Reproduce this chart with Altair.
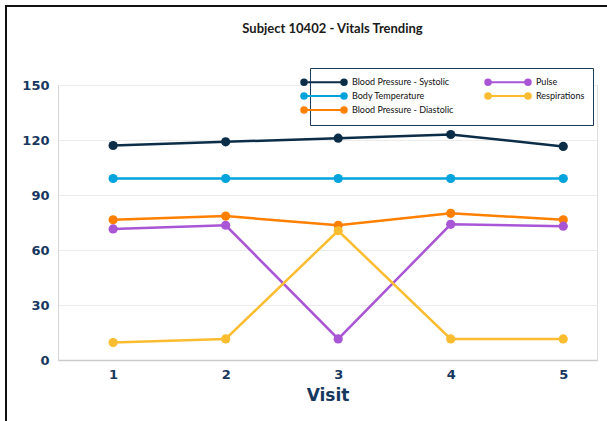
import altair as alt
import pandas as pd

visits = [1, 2, 3, 4, 5]
series_names = [
    "Blood Pressure - Systolic",
    "Body Temperature",
    "Blood Pressure - Diastolic",
    "Pulse",
    "Respirations",
]
series_colors = ["#0c2d48", "#00a3dc", "#ff8000", "#a855d6", "#fbbd30"]

systolic = [117, 119, 121, 123, 116.5]
temperature = [99, 99, 99, 99, 99]
diastolic = [76.5, 78.5, 73.5, 80, 76.5]
pulse = [71.5, 73.5, 11.5, 74, 73]
respirations = [9.5, 11.5, 70.5, 11.5, 11.5]

y_ticks = [0, 30, 60, 90, 120, 150]

values_by_series = {
    "Blood Pressure - Systolic": systolic,
    "Body Temperature": temperature,
    "Blood Pressure - Diastolic": diastolic,
    "Pulse": pulse,
    "Respirations": respirations,
}
rows = []
for name in series_names:
    for v, val in zip(visits, values_by_series[name]):
        rows.append({"Visit": v, "Series": name, "Value": val})
df = pd.DataFrame(rows)

NAVY = "#17375e"
# line with a dot at each end; unit = sqrt(symbolSize)/2 px
LEGEND_PATH = ("M-4,0L4,0"
               "M-4.55,0a0.55,0.55 0 1,0 1.1,0a0.55,0.55 0 1,0 -1.1,0"
               "M3.45,0a0.55,0.55 0 1,0 1.1,0a0.55,0.55 0 1,0 -1.1,0")

color = alt.Color(
    "Series:N",
    scale=alt.Scale(domain=series_names, range=series_colors),
    legend=alt.Legend(
        title=None,
        orient="none",
        legendX=252,
        legendY=-17,
        columns=2,
        columnPadding=27,
        rowPadding=0,
        padding=8,
        strokeColor="#1c3d5a",
        fillColor="white",
        labelFont="Lato",
        labelFontSize=9,
        labelColor="#111111",
        labelOffset=22,
        symbolType=LEGEND_PATH,
        symbolSize=100,
        symbolStrokeWidth=2,
        symbolOpacity=1,
    ),
)

x = alt.X(
    "Visit:Q",
    scale=alt.Scale(domain=[0.51, 5.3], nice=False, zero=False),
    axis=alt.Axis(
        values=visits,
        format="d",
        title="Visit",
        titleFont="DejaVu Sans",
        titleFontSize=17,
        titleFontWeight="bold",
        titleColor=NAVY,
        titlePadding=6,
        labelFont="DejaVu Sans",
        labelFontSize=13,
        labelFontWeight="bold",
        labelColor=NAVY,
        labelPadding=8,
        ticks=False,
        grid=False,
        domainColor="#cccccc",
        domainWidth=1.5,
    ),
)
y = alt.Y(
    "Value:Q",
    scale=alt.Scale(domain=[0, 150], nice=False),
    axis=alt.Axis(
        values=y_ticks,
        title=None,
        labelFont="DejaVu Sans",
        labelFontSize=13,
        labelFontWeight="bold",
        labelColor=NAVY,
        labelPadding=9,
        ticks=False,
        gridColor="#ececec",
        gridWidth=1,
        domainColor="#d5d5d5",
        domainWidth=1,
    ),
)

lines = alt.Chart(df).mark_line(strokeWidth=2.5).encode(
    x=x, y=y, color=color, order=alt.Order("Visit:Q")
)
points = alt.Chart(df).mark_point(filled=True, size=85, opacity=1).encode(
    x=x, y=y, color=color
)

frame = alt.Chart(pd.DataFrame({"k": [0]})).mark_rect(
    fill="white", fillOpacity=0, stroke="#111111", strokeWidth=2
).encode(
    x=alt.value(-52), x2=alt.value(700), y=alt.value(-79), y2=alt.value(600)
)

chart = alt.layer(frame, lines, points).properties(
    width=539,
    height=275,
    padding={"left": 58, "top": 85, "right": 10, "bottom": 61},
    autosize=alt.AutoSizeParams(type="none"),
    title=alt.TitleParams(
        "Subject 10402 - Vitals Trending",
        font="Lato",
        fontSize=13,
        fontWeight="bold",
        color="#1a1a1a",
        anchor="middle",
        offset=-31,
        dx=5,
    ),
).configure_view(stroke=None).configure(background="white")

chart.save("out.html", embed_options={"renderer": "svg", "actions": False})
